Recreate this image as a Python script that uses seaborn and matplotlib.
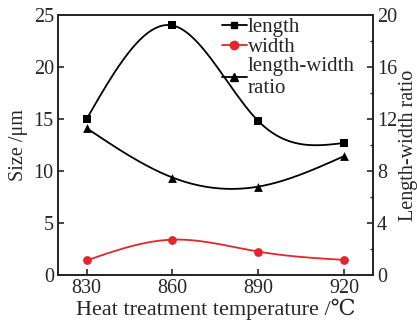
import numpy as np
import pandas as pd
import matplotlib
matplotlib.use("Agg")
import matplotlib.pyplot as plt
import seaborn as sns
from matplotlib.lines import Line2D

# values
temps = [830, 860, 890, 920]
length = [15.0, 24.0, 14.8, 12.7]
width = [1.4, 3.4, 2.25, 1.45]
ratio = [11.3, 7.5, 6.8, 9.15]


def natural_spline(x, y, n=200):
    # natural cubic spline through the points, only used to draw the smooth connecting line
    x = np.asarray(x, float)
    y = np.asarray(y, float)
    k = len(x)
    h = np.diff(x)
    A = np.zeros((k, k))
    b = np.zeros(k)
    A[0, 0] = A[-1, -1] = 1
    for i in range(1, k - 1):
        A[i, i - 1] = h[i - 1]
        A[i, i] = 2 * (h[i - 1] + h[i])
        A[i, i + 1] = h[i]
        b[i] = 6 * ((y[i + 1] - y[i]) / h[i] - (y[i] - y[i - 1]) / h[i - 1])
    M = np.linalg.solve(A, b)
    xs = np.linspace(x[0], x[-1], n)
    idx = np.clip(np.searchsorted(x, xs) - 1, 0, k - 2)
    x0, x1 = x[idx], x[idx + 1]
    hh = x1 - x0
    t0, t1 = x1 - xs, xs - x0
    ys = (M[idx] * t0**3 + M[idx + 1] * t1**3) / (6 * hh) \
        + (y[idx] / hh - M[idx] * hh / 6) * t0 \
        + (y[idx + 1] / hh - M[idx + 1] * hh / 6) * t1
    return xs, ys


sns.set_style("ticks")
plt.rcParams["font.family"] = ["Liberation Serif", "DejaVu Serif"]
fs = 14.5
red = "#e3262b"

fig = plt.figure(figsize=(4.17, 3.27), dpi=100)
ax = fig.add_axes([0.139, 0.159, 0.755, 0.795])
ax2 = ax.twinx()

for a, ys, color, marker in [(ax, length, "black", "s"), (ax, width, red, "o"), (ax2, ratio, "black", "^")]:
    xs_s, ys_s = natural_spline(temps, ys)
    sns.lineplot(x=xs_s, y=ys_s, ax=a, color=color, lw=1.3, estimator=None, sort=False)
    sns.scatterplot(x=temps, y=ys, ax=a, color=color, marker=marker, s=40, edgecolor=color, linewidth=0, zorder=5)

ax.set_xlim(820, 930)
ax.set_ylim(0, 25)
ax2.set_ylim(0, 20)
ax.set_xticks(temps)
ax.set_yticks([0, 5, 10, 15, 20, 25])
ax2.set_yticks([0, 4, 8, 12, 16, 20])
ax2.set_yticks([2, 6, 10, 14, 18], minor=True)

for a in (ax, ax2):
    a.tick_params(direction="in", length=4, width=1.2, labelsize=fs, pad=3)
    a.tick_params(which="minor", direction="in", length=2.5, width=1.0)
    for s in a.spines.values():
        s.set_linewidth(1.3)
        s.set_visible(True)

ax.set_xlabel("Heat treatment temperature /℃", fontsize=16, labelpad=0)
ax.set_ylabel("Size /μm", fontsize=fs, labelpad=4)
ax2.set_ylabel("Length-width ratio", fontsize=fs, labelpad=1)

handles = [
    Line2D([], [], color="black", marker="s", ms=5, lw=1.3),
    Line2D([], [], color=red, marker="o", ms=6, lw=1.3),
    Line2D([], [], color="black", marker="^", ms=6, lw=1.3),
]
ax.legend(handles, ["length", "width", "length-width\nratio"], loc="upper left",
          bbox_to_anchor=(0.52, 0.99), frameon=False, fontsize=15, handlelength=1.2,
          handletextpad=0.05, labelspacing=0.0, borderpad=0, borderaxespad=0)

fig.savefig("out.png", dpi=100)
